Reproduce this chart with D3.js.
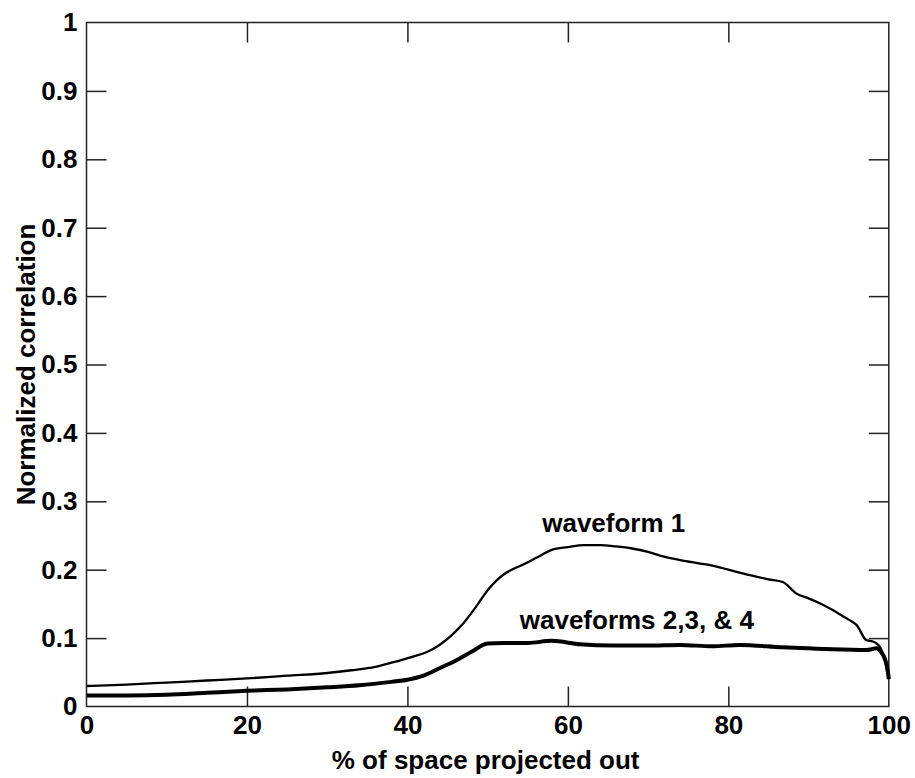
<!DOCTYPE html>
<html>
<head>
<meta charset="utf-8">
<script src="https://cdn.jsdelivr.net/npm/d3@7"></script>
<style>
  html, body { margin: 0; padding: 0; background: #fff; }
  svg { display: block; }
  text { font-family: "Liberation Sans", Arial, Helvetica, sans-serif; font-weight: bold; fill: #000; }
</style>
</head>
<body>
<svg id="chart" width="915" height="778"></svg>
<script>
// ---- data ----
const xTicks = [0, 20, 40, 60, 80, 100];
const yTicks = [0, 0.1, 0.2, 0.3, 0.4, 0.5, 0.6, 0.7, 0.8, 0.9, 1];

const wave1X = [0, 5, 10, 15, 20, 25, 30, 33, 36, 38, 40.7, 42.5, 44, 45.5, 47, 48.5, 50, 51, 52, 53, 54.5, 56, 58, 60, 62, 64, 66, 68, 70, 72, 74, 76.5, 78, 80, 82.7, 85, 86.8, 88.5, 90, 91.4, 93, 94, 95, 96, 97.2, 98, 98.5, 99, 99.5, 99.9, 100];
const wave1Y = [0.030, 0.032, 0.035, 0.038, 0.041, 0.045, 0.049, 0.053, 0.058, 0.064, 0.073, 0.080, 0.090, 0.104, 0.122, 0.145, 0.170, 0.183, 0.193, 0.200, 0.208, 0.217, 0.229, 0.233, 0.236, 0.236, 0.234, 0.231, 0.226, 0.219, 0.214, 0.209, 0.206, 0.200, 0.192, 0.186, 0.182, 0.165, 0.158, 0.151, 0.141, 0.134, 0.127, 0.119, 0.097, 0.095, 0.092, 0.085, 0.068, 0.045, 0.040];

const wave234X = [0, 5, 10, 15, 20, 25, 30, 34, 38, 40, 42, 44, 46, 48, 50, 52, 55, 58, 61.5, 65.6, 70, 74, 78, 81.4, 86.8, 90, 93, 97.2, 98.5, 99, 99.5, 99.9, 100];
const wave234Y = [0.016, 0.016, 0.017, 0.020, 0.023, 0.025, 0.028, 0.031, 0.036, 0.039, 0.045, 0.056, 0.067, 0.080, 0.092, 0.093, 0.093, 0.096, 0.091, 0.089, 0.089, 0.090, 0.088, 0.090, 0.0865, 0.085, 0.0836, 0.0826, 0.085, 0.080, 0.070, 0.050, 0.040];

const labelTexts = ["waveform 1", "waveforms 2,3, & 4"];
const labelX = [56.8, 54.0];
const labelY = [0.255, 0.113];

const xTitle = "% of space projected out";
const yTitle = "Normalized correlation";

// ---- layout ----
const pLeft = 86.5, pRight = 888.8, pTop = 22.5, pBottom = 706.5;
const svg = d3.select("#chart");
const x = d3.scaleLinear().domain([0, 100]).range([pLeft, pRight]);
const y = d3.scaleLinear().domain([0, 1]).range([pBottom, pTop]);
const tickLen = 20;
const axisColor = "#222";

// frame
svg.append("rect")
  .attr("x", pLeft).attr("y", pTop)
  .attr("width", pRight - pLeft).attr("height", pBottom - pTop)
  .attr("fill", "none").attr("stroke", axisColor).attr("stroke-width", 1.5);

// axes (inward ticks, mirrored)
function styleAxis(g) {
  g.select(".domain").remove();
  g.selectAll(".tick line").attr("stroke", axisColor).attr("stroke-width", 1.5);
  g.selectAll(".tick text").style("font-size", "26px").attr("fill", "#000");
}
svg.append("g").attr("transform", `translate(0,${pBottom})`)
  .call(d3.axisBottom(x).tickValues(xTicks).tickFormat(d3.format("d")).tickSizeInner(-tickLen).tickSizeOuter(0).tickPadding(9))
  .call(styleAxis)
  .call(g => g.selectAll(".tick").filter(d => d === 0 || d === 100).select("line").remove());
svg.append("g").attr("transform", `translate(0,${pTop})`)
  .call(d3.axisTop(x).tickValues(xTicks).tickFormat("").tickSizeInner(-tickLen).tickSizeOuter(0))
  .call(styleAxis)
  .call(g => g.selectAll(".tick").filter(d => d === 0 || d === 100).select("line").remove());
svg.append("g").attr("transform", `translate(${pLeft},0)`)
  .call(d3.axisLeft(y).tickValues(yTicks).tickFormat(d => d3.format("~g")(d)).tickSizeInner(-tickLen).tickSizeOuter(0).tickPadding(9))
  .call(styleAxis)
  .call(g => g.selectAll(".tick").filter(d => d === 0 || d === 1).select("line").remove());
svg.append("g").attr("transform", `translate(${pRight},0)`)
  .call(d3.axisRight(y).tickValues(yTicks).tickFormat("").tickSizeInner(-tickLen).tickSizeOuter(0))
  .call(styleAxis)
  .call(g => g.selectAll(".tick").filter(d => d === 0 || d === 1).select("line").remove());

// lines
const line = d3.line().x(d => x(d[0])).y(d => y(d[1])).curve(d3.curveMonotoneX);
const w1 = wave1X.map((v, i) => [v, wave1Y[i]]);
const w234 = wave234X.map((v, i) => [v, wave234Y[i]]);
svg.append("path").datum(w234).attr("d", line)
  .attr("fill", "none").attr("stroke", "#000").attr("stroke-width", 4).attr("stroke-linejoin", "round");
svg.append("path").datum(w1).attr("d", line)
  .attr("fill", "none").attr("stroke", "#000").attr("stroke-width", 2.3).attr("stroke-linejoin", "round");

// annotations
svg.selectAll(".ann").data(labelTexts).enter().append("text")
  .attr("class", "ann")
  .attr("x", (d, i) => x(labelX[i]))
  .attr("y", (d, i) => y(labelY[i]))
  .style("font-size", "26px")
  .text(d => d);

// axis titles
svg.append("text")
  .attr("x", (pLeft + pRight) / 2 - 2).attr("y", 769)
  .attr("text-anchor", "middle").style("font-size", "26px")
  .text(xTitle);
svg.append("text")
  .attr("transform", `translate(35,${(pTop + pBottom) / 2}) rotate(-90)`)
  .attr("text-anchor", "middle").style("font-size", "26px")
  .text(yTitle);
</script>
</body>
</html>
